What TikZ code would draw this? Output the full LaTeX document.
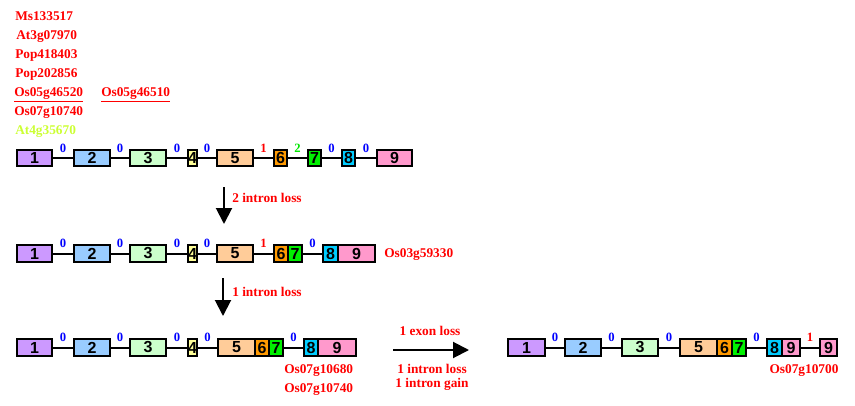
\documentclass[tikz,border=0pt]{standalone}
\usepackage{fontspec}
\setmainfont{Liberation Serif}
\setsansfont{Liberation Sans}
\usetikzlibrary{arrows.meta}

\definecolor{exA}{RGB}{204,153,255}
\definecolor{exB}{RGB}{153,204,255}
\definecolor{exC}{RGB}{204,255,204}
\definecolor{exD}{RGB}{255,255,153}
\definecolor{exE}{RGB}{255,204,153}
\definecolor{exF}{RGB}{255,153,0}
\definecolor{exG}{RGB}{0,240,0}
\definecolor{exH}{RGB}{0,204,255}
\definecolor{exI}{RGB}{255,153,204}
\definecolor{genered}{RGB}{255,0,0}
\definecolor{phaseblue}{RGB}{0,0,255}
\definecolor{phasegreen}{RGB}{0,230,0}
\definecolor{limegene}{RGB}{204,255,51}

\begin{document}
\begin{tikzpicture}[x=0.75pt,y=0.75pt,yscale=-1,xscale=1,
    exon/.style 2 args={draw, line width=1.8pt, fill=#2, minimum width=#1*0.75pt, minimum height=12.4pt,
        inner sep=0pt, outer sep=0pt, anchor=west, font=\sffamily\bfseries\fontsize{12}{12}\selectfont},
    intron/.style={line width=1.5pt},
    phase/.style={above=3.4pt, inner sep=0pt, text=phaseblue, font=\bfseries\fontsize{9.5}{10}\selectfont},
    gene/.style={anchor=base west, inner sep=0pt, text=genered, font=\bfseries},
    event/.style={anchor=base, inner sep=0pt, text=genered, font=\bfseries},
    evolve/.style={line width=1.5pt, -{Triangle[length=12pt,width=12pt]}}]
\useasboundingbox (0,0) rectangle (855,406);

% Text Node
\node[gene] (ms) at (15,20.7) {Ms133517};
\node[gene] (at3) at (16,39.3) {At3g07970};
\node[gene] (popa) at (15,58.3) {Pop418403};
\node[gene] (popb) at (15,77.7) {Pop202856};
\node[gene] (osa) at (14,96.7) {\underline{Os05g46520}};
\node[gene] (osb) at (101,96.7) {\underline{Os05g46510}};
\node[gene] (osc) at (14,116) {Os07g10740};
\node[gene, text=limegene] (at4) at (15,135) {At4g35670};

%Shape: Rectangle -- first row
\node[exon={35}{exA}] (a1) at (17,158) {1};
\node[exon={36}{exB}] (a2) at (74,158) {2};
\node[exon={36}{exC}] (a3) at (130,158) {3};
\node[exon={8}{exD}] (a4) at (188,158) {4};
\node[exon={36}{exE}] (a5) at (217,158) {5};
\node[exon={13}{exF}] (a6) at (274,158) {6};
\node[exon={13}{exG}] (a7) at (308,158) {7};
\node[exon={13}{exH}] (a8) at (342,158) {8};
\node[exon={35}{exI}] (a9) at (377,158) {9};
%Straight Lines
\draw[intron] (a1) -- node[phase] {0} (a2);
\draw[intron] (a2) -- node[phase] {0} (a3);
\draw[intron] (a3) -- node[phase] {0} (a4);
\draw[intron] (a4) -- node[phase] {0} (a5);
\draw[intron] (a5) -- node[phase, text=genered] {1} (a6);
\draw[intron] (a6) -- node[phase, text=phasegreen] {2} (a7);
\draw[intron] (a7) -- node[phase] {0} (a8);
\draw[intron] (a8) -- node[phase] {0} (a9);

%Straight Lines -- first step
\coordinate (s1) at (224,187);
\coordinate (e1) at (224,224);
\draw[evolve] (s1) -- (e1);
\node[gene] (loss1) at (232,202) {2 intron loss};

%Shape: Rectangle -- second row
\node[exon={35}{exA}] (b1) at (17,253.5) {1};
\node[exon={36}{exB}] (b2) at (74,253.5) {2};
\node[exon={36}{exC}] (b3) at (130,253.5) {3};
\node[exon={8}{exD}] (b4) at (188,253.5) {4};
\node[exon={36}{exE}] (b5) at (217,253.5) {5};
\node[exon={14}{exF}] (b6) at (274,253.5) {6};
\node[exon={14}{exG}] (b7) at (b6.east) {7};
\node[exon={15}{exH}] (b8) at (323,253.5) {8};
\node[exon={37}{exI}] (b9) at (b8.east) {9};
%Straight Lines
\draw[intron] (b1) -- node[phase] {0} (b2);
\draw[intron] (b2) -- node[phase] {0} (b3);
\draw[intron] (b3) -- node[phase] {0} (b4);
\draw[intron] (b4) -- node[phase] {0} (b5);
\draw[intron] (b5) -- node[phase, text=genered] {1} (b6);
\draw[intron] (b7) -- node[phase] {0} (b8);
% Text Node
\node[gene] (osd) at (384,257) {Os03g59330};

%Straight Lines -- second step
\coordinate (s2) at (223,278);
\coordinate (e2) at (223,316);
\draw[evolve] (s2) -- (e2);
\node[gene] (loss2) at (232,296.7) {1 intron loss};

%Shape: Rectangle -- third row
\node[exon={35}{exA}] (c1) at (17,347.5) {1};
\node[exon={36}{exB}] (c2) at (74,347.5) {2};
\node[exon={36}{exC}] (c3) at (130,347.5) {3};
\node[exon={8}{exD}] (c4) at (188,347.5) {4};
\node[exon={37}{exE}] (c5) at (218,347.5) {5};
\node[exon={14}{exF}] (c6) at (c5.east) {6};
\node[exon={14}{exG}] (c7) at (c6.east) {7};
\node[exon={14}{exH}] (c8) at (304,347.5) {8};
\node[exon={38}{exI}] (c9) at (c8.east) {9};
%Straight Lines
\draw[intron] (c1) -- node[phase] {0} (c2);
\draw[intron] (c2) -- node[phase] {0} (c3);
\draw[intron] (c3) -- node[phase] {0} (c4);
\draw[intron] (c4) -- node[phase] {0} (c5);
\draw[intron] (c7) -- node[phase] {0} (c8);
% Text Node
\node[gene] (ose) at (284,373.3) {Os07g10680};
\node[gene] (osf) at (284,392.3) {Os07g10740};

%Straight Lines -- third step
\coordinate (s3) at (393,350);
\coordinate (e3) at (469,350);
\draw[evolve] (s3) -- (e3);
\node[event] (exloss) at (430,335) {1 exon loss};
\node[event] (inloss) at (432,373.3) {1 intron loss};
\node[event] (ingain) at (432,387.5) {1 intron gain};

%Shape: Rectangle -- fourth row
\node[exon={37}{exA}] (d1) at (508,347.5) {1};
\node[exon={36}{exB}] (d2) at (565,347.5) {2};
\node[exon={36}{exC}] (d3) at (622,347.5) {3};
\node[exon={37}{exE}] (d5) at (680,347.5) {5};
\node[exon={15}{exF}] (d6) at (d5.east) {6};
\node[exon={14}{exG}] (d7) at (d6.east) {7};
\node[exon={15}{exH}] (d8) at (767,347.5) {8};
\node[exon={18}{exI}] (d9) at (d8.east) {9};
\node[exon={17}{exI}] (d10) at (820,347.5) {9};
%Straight Lines
\draw[intron] (d1) -- node[phase] {0} (d2);
\draw[intron] (d2) -- node[phase] {0} (d3);
\draw[intron] (d3) -- node[phase] {0} (d5);
\draw[intron] (d7) -- node[phase] {0} (d8);
\draw[intron] (d9) -- node[phase, text=genered] {1} (d10);
% Text Node
\node[event] (osg) at (804,373.3) {Os07g10700};
\end{tikzpicture}
\end{document}
